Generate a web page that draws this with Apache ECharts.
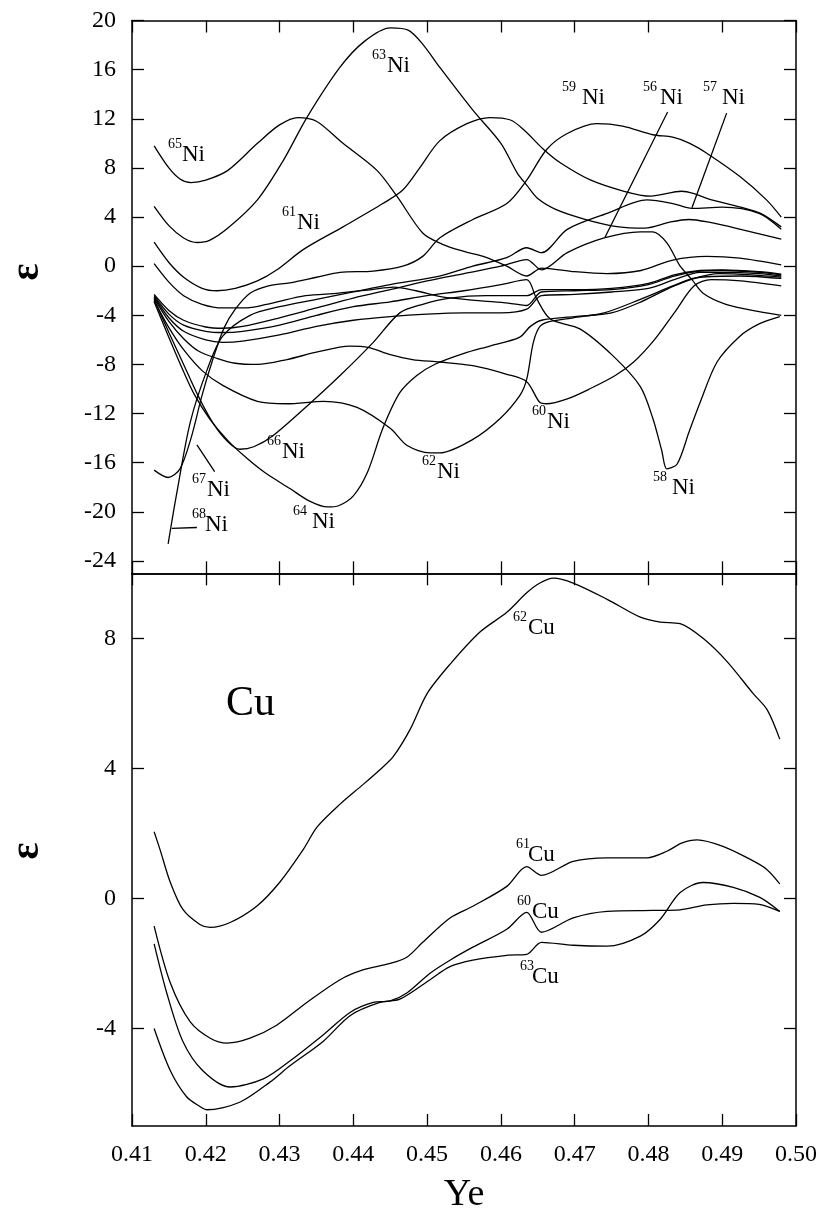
<!DOCTYPE html>
<html><head><meta charset="utf-8">
<script src="https://cdn.jsdelivr.net/npm/echarts@6/dist/echarts.min.js"></script>
<style>html,body{margin:0;padding:0;background:#fff}#c{width:820px;height:1215px}</style>
</head><body><div id="c"></div>
<script>
// ---------- tick values ----------
const niTicks = [-24,-20,-16,-12,-8,-4,0,4,8,12,16,20];
const cuTicks = [-4,0,4,8];

// ---------- Ni curves [Ye, epsilon] ----------
const ni65 = [[0.413,9.8],[0.415,8.0],[0.4165,7.1],[0.418,6.8],[0.42,7.0],[0.423,7.8],[0.427,10.0],[0.430,11.5],[0.4325,12.1],[0.435,11.8],[0.4386,10.0],[0.4432,7.8],[0.4459,5.7],[0.4494,2.7],[0.452,1.8],[0.455,1.2],[0.4576,0.8],[0.4608,0.0],[0.4635,-0.8],[0.4655,-0.15],[0.47,-0.45],[0.4744,-0.6],[0.479,-0.35],[0.4833,0.5],[0.4879,0.8],[0.4924,0.65],[0.498,0.1]];
const ni63 = [[0.413,4.87],[0.415,3.3],[0.417,2.3],[0.4188,1.93],[0.4205,2.1],[0.423,3.1],[0.427,5.4],[0.4305,8.6],[0.4337,12.1],[0.4382,16.2],[0.4415,18.3],[0.445,19.4],[0.4475,19.2],[0.4495,18.0],[0.4517,16.2],[0.4562,12.7],[0.46,10.0],[0.4622,7.6],[0.4635,6.6],[0.465,5.5],[0.4675,4.6],[0.4715,3.8],[0.476,3.2],[0.4795,3.1],[0.483,3.6],[0.4855,3.8],[0.488,3.6],[0.4925,3.0],[0.498,2.2]];
const ni61 = [[0.413,1.95],[0.415,0.3],[0.417,-0.9],[0.4195,-1.8],[0.4215,-2.0],[0.424,-1.8],[0.427,-1.2],[0.4297,-0.27],[0.4332,1.35],[0.4386,3.2],[0.444,5.1],[0.4467,6.2],[0.449,8.0],[0.4517,10.2],[0.4554,11.6],[0.4585,12.1],[0.4613,11.9],[0.4631,11.1],[0.4658,9.5],[0.4681,8.4],[0.4722,7.0],[0.4767,6.1],[0.4803,5.7],[0.4845,6.1],[0.4862,5.9],[0.488,5.5],[0.4925,4.8],[0.4952,4.3],[0.498,3.2]];
const ni59 = [[0.413,0.2],[0.415,-1.3],[0.417,-2.4],[0.4195,-3.1],[0.4223,-3.4],[0.4255,-3.4],[0.429,-3.0],[0.4335,-2.4],[0.438,-2.2],[0.4425,-1.9],[0.4455,-1.7],[0.4485,-2.0],[0.452,-2.5],[0.457,-2.8],[0.461,-3.0],[0.4635,-3.2],[0.4655,-2.1],[0.47,-2.0],[0.475,-1.9],[0.48,-1.5],[0.4835,-0.8],[0.487,-0.4],[0.49,-0.35],[0.495,-0.5],[0.498,-0.7]];
const ni67 = [[0.413,-16.6],[0.4149,-17.2],[0.4165,-16.5],[0.418,-14.0],[0.4195,-10.5],[0.421,-7.5],[0.4225,-5.0],[0.424,-3.5],[0.426,-2.2],[0.4285,-1.6],[0.4314,-1.35],[0.435,-0.9],[0.4382,-0.5],[0.4427,-0.4],[0.4467,0.0],[0.4494,0.8],[0.4517,2.3],[0.4562,3.8],[0.4608,5.1],[0.4635,7.0],[0.4662,9.5],[0.469,10.8],[0.473,11.6],[0.4765,11.4],[0.4806,10.7],[0.4833,10.5],[0.4856,10.0],[0.4879,9.2],[0.4924,7.3],[0.496,5.4],[0.498,4.0]];
const ni68 = [[0.4149,-22.6],[0.416,-18.7],[0.4179,-12.7],[0.4202,-8.4],[0.4223,-5.7],[0.426,-4.0],[0.43,-3.3],[0.435,-2.7],[0.44,-2.1],[0.445,-1.5],[0.4517,-0.8],[0.4562,0.0],[0.4608,0.7],[0.4635,1.5],[0.4655,1.1],[0.469,3.0],[0.4744,4.3],[0.4798,5.4],[0.4833,5.1],[0.4859,4.7],[0.49,4.8],[0.495,4.3],[0.498,3.0]];
const ni56 = [[0.413,-2.3],[0.415,-3.6],[0.417,-4.4],[0.42,-4.95],[0.4223,-5.05],[0.425,-4.9],[0.43,-4.2],[0.435,-3.4],[0.44,-2.6],[0.445,-1.9],[0.45,-1.2],[0.455,-0.6],[0.46,0.0],[0.4635,0.54],[0.4655,-0.3],[0.469,1.1],[0.474,2.3],[0.4789,2.8],[0.4806,2.8],[0.4825,1.9],[0.4843,0.0],[0.4859,-1.1],[0.4874,-2.2],[0.4905,-3.1],[0.495,-3.7],[0.498,-4.0]];
const ni58 = [[0.413,-2.4],[0.415,-3.9],[0.417,-4.8],[0.42,-5.3],[0.4223,-5.4],[0.425,-5.3],[0.43,-4.8],[0.435,-4.0],[0.44,-3.3],[0.445,-2.9],[0.45,-2.4],[0.455,-2.0],[0.46,-1.5],[0.4635,-1.1],[0.4648,-2.6],[0.4667,-4.3],[0.4707,-5.1],[0.4752,-7.3],[0.4789,-9.8],[0.4806,-12.4],[0.4818,-15.0],[0.4825,-16.5],[0.4839,-16.1],[0.4855,-13.5],[0.487,-11.1],[0.4893,-7.8],[0.4924,-5.7],[0.495,-4.7],[0.4978,-4.1]];
const niH = [[0.413,-2.5],[0.415,-4.2],[0.417,-5.3],[0.42,-6.0],[0.4223,-6.2],[0.425,-6.1],[0.43,-5.6],[0.435,-4.9],[0.44,-4.4],[0.445,-4.1],[0.45,-3.9],[0.455,-3.8],[0.46,-3.8],[0.4635,-3.5],[0.4655,-2.4],[0.47,-2.3],[0.475,-2.1],[0.48,-1.8],[0.4835,-1.1],[0.487,-0.5],[0.49,-0.5],[0.495,-0.6],[0.498,-0.8]];
const ni60 = [[0.413,-2.6],[0.415,-4.5],[0.417,-5.9],[0.419,-6.9],[0.4215,-7.5],[0.424,-7.9],[0.427,-8.0],[0.431,-7.6],[0.435,-7.0],[0.4395,-6.5],[0.442,-6.6],[0.445,-7.2],[0.448,-7.6],[0.4517,-7.8],[0.4562,-8.1],[0.4608,-8.8],[0.4635,-9.4],[0.4653,-11.1],[0.4662,-11.2],[0.469,-10.8],[0.472,-10.0],[0.4755,-8.9],[0.478,-7.8],[0.4808,-6.0],[0.4835,-3.8],[0.4862,-1.6],[0.4885,-1.1],[0.4925,-1.2],[0.498,-1.6]];
const ni62 = [[0.413,-2.8],[0.415,-5.0],[0.417,-6.8],[0.4195,-8.5],[0.4223,-9.7],[0.427,-11.0],[0.431,-11.2],[0.436,-11.0],[0.4405,-11.5],[0.445,-13.2],[0.4473,-14.6],[0.4504,-15.2],[0.4517,-15.2],[0.4562,-14.1],[0.4599,-12.4],[0.4626,-10.5],[0.4635,-9.2],[0.4644,-6.2],[0.4653,-4.9],[0.4667,-4.5],[0.4698,-4.2],[0.474,-3.8],[0.4789,-2.7],[0.4833,-1.6],[0.486,-1.0],[0.4895,-0.6],[0.494,-0.7],[0.498,-0.9]];
const ni64 = [[0.413,-2.9],[0.415,-5.8],[0.417,-8.6],[0.4185,-10.5],[0.4205,-12.4],[0.423,-14.2],[0.4255,-15.6],[0.428,-16.8],[0.4314,-18.1],[0.434,-19.1],[0.4365,-19.6],[0.438,-19.5],[0.44,-18.7],[0.4419,-16.8],[0.444,-13.2],[0.4463,-10.3],[0.4486,-8.9],[0.451,-8.0],[0.455,-7.1],[0.4585,-6.5],[0.4625,-5.8],[0.464,-4.9],[0.4655,-4.4],[0.47,-4.1],[0.475,-3.8],[0.479,-2.9],[0.4835,-1.6],[0.487,-0.9],[0.4925,-0.8],[0.498,-1.0]];
const ni66 = [[0.413,-2.7],[0.415,-5.4],[0.417,-8.0],[0.419,-10.6],[0.421,-12.8],[0.423,-14.3],[0.4246,-14.9],[0.4265,-14.7],[0.4291,-13.8],[0.4337,-11.4],[0.4382,-8.9],[0.4427,-6.2],[0.4463,-3.8],[0.4494,-3.1],[0.4531,-2.6],[0.458,-2.4],[0.4635,-2.4],[0.4655,-1.9],[0.47,-1.9],[0.475,-1.8],[0.48,-1.4],[0.4835,-0.7],[0.487,-0.35],[0.49,-0.3],[0.495,-0.45],[0.498,-0.65]];

// ---------- Cu curves ----------
const cu62 = [[0.413,2.05],[0.4138,1.5],[0.4152,0.49],[0.4169,-0.34],[0.4192,-0.8],[0.4206,-0.89],[0.4233,-0.74],[0.4269,-0.24],[0.43,0.49],[0.4332,1.5],[0.4351,2.2],[0.4382,2.9],[0.4413,3.5],[0.4436,3.96],[0.4454,4.36],[0.4477,5.2],[0.45,6.3],[0.4531,7.2],[0.4572,8.2],[0.4608,8.8],[0.4635,9.4],[0.4653,9.7],[0.4671,9.85],[0.4698,9.7],[0.4744,9.2],[0.4789,8.65],[0.4816,8.5],[0.4843,8.45],[0.4874,8.0],[0.4906,7.3],[0.4942,6.3],[0.4961,5.8],[0.4978,4.9]];
const cu61 = [[0.413,-0.85],[0.4152,-2.6],[0.4179,-3.8],[0.4206,-4.3],[0.4229,-4.45],[0.426,-4.3],[0.4296,-3.9],[0.4337,-3.2],[0.4382,-2.5],[0.4413,-2.2],[0.445,-2.0],[0.4473,-1.8],[0.4494,-1.35],[0.4531,-0.6],[0.4562,-0.24],[0.4608,0.37],[0.4635,0.98],[0.4655,0.71],[0.4698,1.14],[0.4744,1.25],[0.4798,1.25],[0.4825,1.45],[0.4845,1.7],[0.4866,1.8],[0.4901,1.6],[0.4938,1.2],[0.496,0.9],[0.4978,0.45]];
const cu60 = [[0.413,-1.4],[0.4147,-2.9],[0.4169,-4.4],[0.4196,-5.3],[0.4233,-5.8],[0.4278,-5.55],[0.4314,-5.0],[0.4359,-4.2],[0.4396,-3.5],[0.4427,-3.2],[0.445,-3.15],[0.4473,-2.9],[0.4504,-2.3],[0.4531,-1.9],[0.4562,-1.5],[0.4608,-0.95],[0.4635,-0.43],[0.4655,-1.04],[0.4698,-0.6],[0.4744,-0.4],[0.4806,-0.37],[0.4843,-0.35],[0.4879,-0.2],[0.4915,-0.15],[0.495,-0.18],[0.4978,-0.4]];
const cu63 = [[0.413,-4.0],[0.4152,-5.3],[0.4174,-6.1],[0.4192,-6.4],[0.4201,-6.5],[0.4246,-6.27],[0.4287,-5.65],[0.4314,-5.15],[0.4359,-4.4],[0.4396,-3.6],[0.4436,-3.2],[0.4463,-3.1],[0.4504,-2.5],[0.4531,-2.1],[0.4562,-1.9],[0.4608,-1.75],[0.4635,-1.72],[0.4655,-1.35],[0.4698,-1.44],[0.4744,-1.47],[0.4789,-1.16],[0.4816,-0.64],[0.4843,0.18],[0.4874,0.49],[0.4915,0.34],[0.4951,0.03],[0.4978,-0.4]];

// pointer lines for labels (data coords)
const ptr56 = [[0.4826,12.55],[0.4741,2.33]];
const ptr57 = [[0.4906,12.46],[0.4859,4.76]];
const ptr67 = [[0.4188,-14.54],[0.4212,-16.73]];
const ptr68 = [[0.4154,-21.35],[0.4188,-21.27]];

const niCurves = [ni65,ni63,ni61,ni59,ni67,ni68,ni56,ni58,niH,ni60,ni62,ni64,ni66];
const cuCurves = [cu62,cu61,cu60,cu63];
const niPtrs = [ptr56,ptr57,ptr67,ptr68];

// ---------- labels: [superscript, element, supLeft, mainLeft, centerY] ----------
const labels = [
 ['63','Ni',372,387,66],['65','Ni',168,182,155],['61','Ni',282,297,223],
 ['59','Ni',562,582,98],['56','Ni',643,660,98],['57','Ni',703,722,98],
 ['66','Ni',267,282,452],['67','Ni',192,207,490],['68','Ni',192,205,525],
 ['64','Ni',293,312,522],['62','Ni',422,437,472],['60','Ni',532,547,422],
 ['58','Ni',653,672,488],
 ['62','Cu',513,528,628],['61','Cu',516,528,855],['60','Cu',517,532,912],['63','Cu',520,532,977]
];

const FONT = 'Liberation Serif, Times New Roman, serif';
const chart = echarts.init(document.getElementById('c'), null, {renderer:'canvas'});

function xAx(grid, pos, showLabel, name){
  return {type:'value', gridIndex:grid, position:pos, min:0.41, max:0.50, interval:0.01,
    axisLine:{show:true, onZero:false, lineStyle:{color:'#000', width:1.5}},
    axisTick:{show:true, inside:true, length:12, lineStyle:{color:'#000', width:1.3}},
    axisLabel:{show:showLabel, margin:17, color:'#000', fontFamily:FONT, fontSize:24,
      formatter:v=>v.toFixed(2)},
    splitLine:{show:false},
    name: name||'', nameLocation:'middle', nameGap:50,
    nameTextStyle:{fontFamily:FONT, fontSize:38, color:'#000'}};
}
function yAx(grid, pos, min, max, ticks, showLabel){
  return {type:'value', gridIndex:grid, position:pos, min:min, max:max,
    axisLine:{show:true, onZero:false, lineStyle:{color:'#000', width:1.5}},
    axisTick:{show:true, inside:true, length:12, customValues:ticks, lineStyle:{color:'#000', width:1.3}},
    axisLabel:{show:showLabel, margin:16, color:'#000', fontFamily:FONT, fontSize:24, customValues:ticks},
    splitLine:{show:false}};
}

const series = [];
niCurves.forEach(d=>series.push({type:'line', xAxisIndex:0, yAxisIndex:0, data:d, showSymbol:false, smooth:0.3,
  lineStyle:{color:'#000', width:1.3}, silent:true, animation:false}));
niPtrs.forEach(d=>series.push({type:'line', xAxisIndex:0, yAxisIndex:0, data:d, showSymbol:false,
  lineStyle:{color:'#000', width:1.3}, silent:true, animation:false}));
cuCurves.forEach(d=>series.push({type:'line', xAxisIndex:2, yAxisIndex:2, data:d, showSymbol:false, smooth:0.3,
  lineStyle:{color:'#000', width:1.3}, silent:true, animation:false}));

const graphics = [];
labels.forEach(l=>{
  graphics.push({type:'text', left:l[2], top:l[4]-18, style:{text:l[0], font:'14px '+FONT, fill:'#000'}});
  graphics.push({type:'text', left:l[3], top:l[4]-12, style:{text:l[1], font:'23px '+FONT, fill:'#000'}});
});
graphics.push({type:'text', left:226, top:683, style:{text:'Cu', font:'42px '+FONT, fill:'#000'}});
graphics.push({type:'text', x:28, y:272, rotation:Math.PI/2, style:{text:'ε', font:'bold 40px '+FONT, fill:'#000', align:'center', verticalAlign:'middle'}});
graphics.push({type:'text', x:28, y:851, rotation:Math.PI/2, style:{text:'ε', font:'bold 40px '+FONT, fill:'#000', align:'center', verticalAlign:'middle'}});

chart.setOption({
  animation:false,
  backgroundColor:'#fff',
  grid:[{left:132, right:24, top:20.5, height:552.8},{left:132, right:24, top:573.3, height:553.4}],
  xAxis:[xAx(0,'bottom',false), xAx(0,'top',false), xAx(1,'bottom',true,'Ye'), xAx(1,'top',false)],
  yAxis:[yAx(0,'left',-25,20,niTicks,true), yAx(0,'right',-25,20,niTicks,false),
         yAx(1,'left',-7,10,cuTicks,true), yAx(1,'right',-7,10,cuTicks,false)],
  series:series,
  graphic:graphics
});
</script></body></html>
